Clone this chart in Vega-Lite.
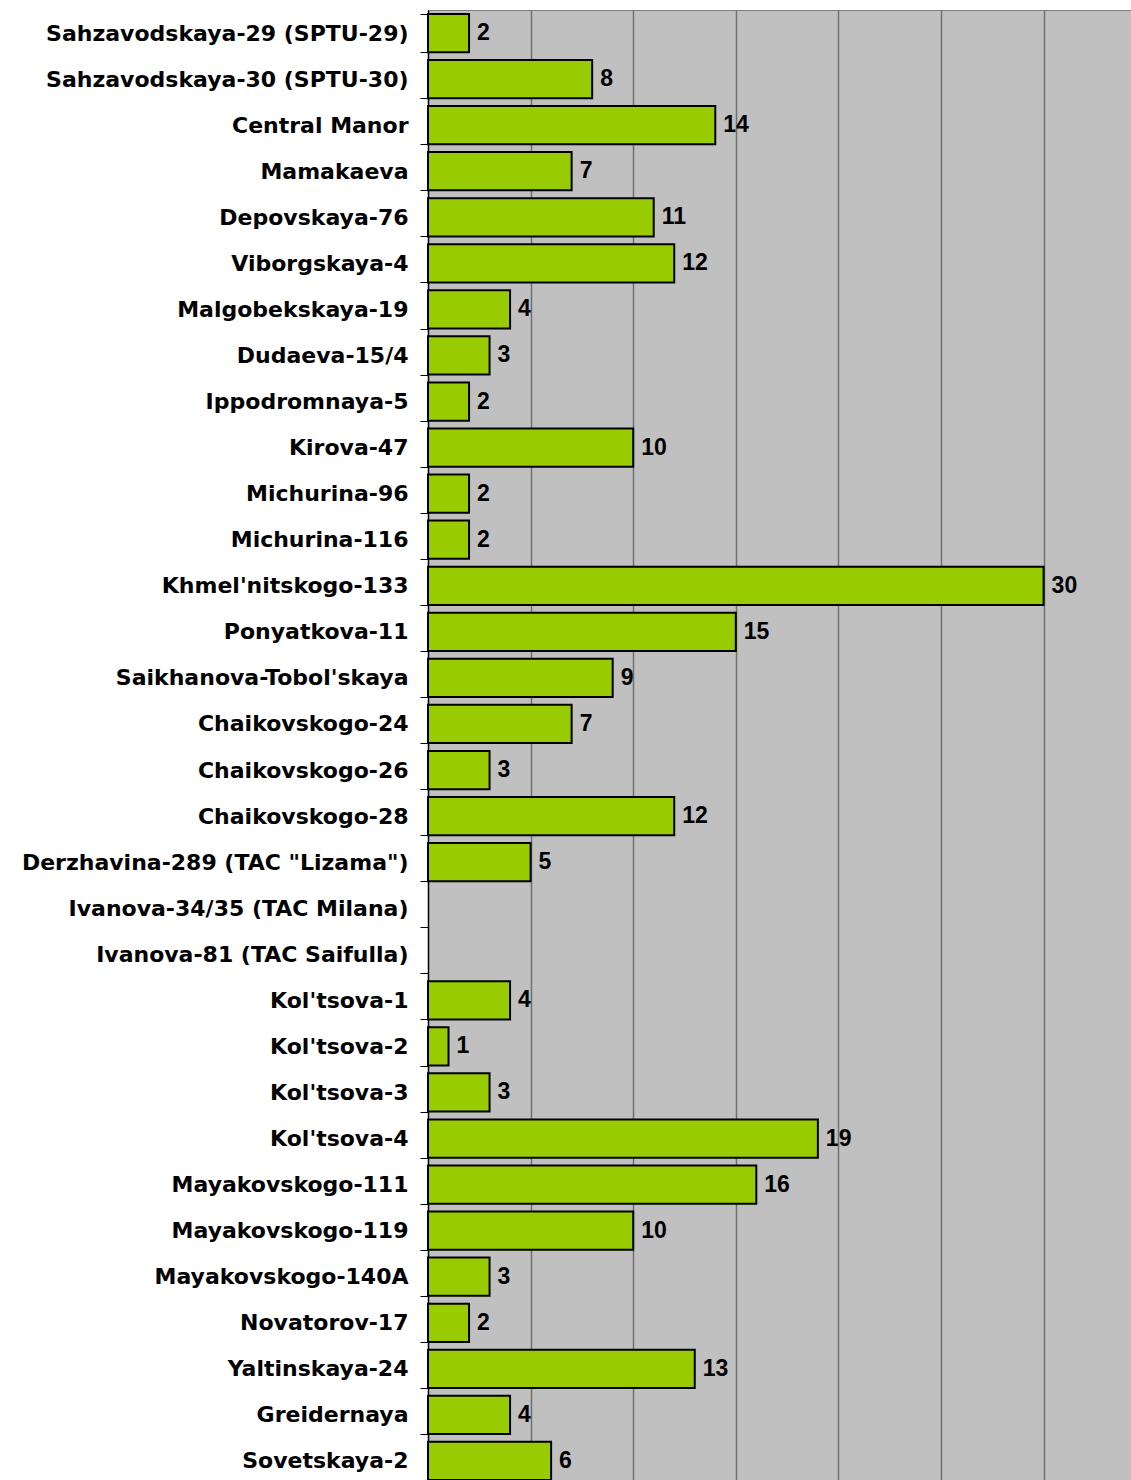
{
  "$schema": "https://vega.github.io/schema/vega-lite/v6.json",
  "autosize": {"type": "none"},
  "padding": {"left": 428, "top": 10, "right": 0, "bottom": 0},
  "width": 703,
  "height": 1474,
  "background": "white",
  "config": {
    "view": {"fill": "#C0C0C0", "stroke": "#808080", "strokeWidth": 1},
    "font": "Liberation Sans"
  },
  "data": {
    "values": [
      {"name": "Sahzavodskaya-29 (SPTU-29)", "value": 2},
      {"name": "Sahzavodskaya-30 (SPTU-30)", "value": 8},
      {"name": "Central Manor", "value": 14},
      {"name": "Mamakaeva", "value": 7},
      {"name": "Depovskaya-76", "value": 11},
      {"name": "Viborgskaya-4", "value": 12},
      {"name": "Malgobekskaya-19", "value": 4},
      {"name": "Dudaeva-15/4", "value": 3},
      {"name": "Ippodromnaya-5", "value": 2},
      {"name": "Kirova-47", "value": 10},
      {"name": "Michurina-96", "value": 2},
      {"name": "Michurina-116", "value": 2},
      {"name": "Khmel'nitskogo-133", "value": 30},
      {"name": "Ponyatkova-11", "value": 15},
      {"name": "Saikhanova-Tobol'skaya", "value": 9},
      {"name": "Chaikovskogo-24", "value": 7},
      {"name": "Chaikovskogo-26", "value": 3},
      {"name": "Chaikovskogo-28", "value": 12},
      {"name": "Derzhavina-289 (TAC \"Lizama\")", "value": 5},
      {"name": "Ivanova-34/35 (TAC Milana)", "value": null},
      {"name": "Ivanova-81 (TAC Saifulla)", "value": null},
      {"name": "Kol'tsova-1", "value": 4},
      {"name": "Kol'tsova-2", "value": 1},
      {"name": "Kol'tsova-3", "value": 3},
      {"name": "Kol'tsova-4", "value": 19},
      {"name": "Mayakovskogo-111", "value": 16},
      {"name": "Mayakovskogo-119", "value": 10},
      {"name": "Mayakovskogo-140A", "value": 3},
      {"name": "Novatorov-17", "value": 2},
      {"name": "Yaltinskaya-24", "value": 13},
      {"name": "Greidernaya", "value": 4},
      {"name": "Sovetskaya-2", "value": 6}
    ]
  },
  "encoding": {
    "y": {
      "field": "name",
      "type": "nominal",
      "sort": null,
      "scale": {
        "domain": ["Sahzavodskaya-29 (SPTU-29)", "Sahzavodskaya-30 (SPTU-30)", "Central Manor", "Mamakaeva", "Depovskaya-76", "Viborgskaya-4", "Malgobekskaya-19", "Dudaeva-15/4", "Ippodromnaya-5", "Kirova-47", "Michurina-96", "Michurina-116", "Khmel'nitskogo-133", "Ponyatkova-11", "Saikhanova-Tobol'skaya", "Chaikovskogo-24", "Chaikovskogo-26", "Chaikovskogo-28", "Derzhavina-289 (TAC \"Lizama\")", "Ivanova-34/35 (TAC Milana)", "Ivanova-81 (TAC Saifulla)", "Kol'tsova-1", "Kol'tsova-2", "Kol'tsova-3", "Kol'tsova-4", "Mayakovskogo-111", "Mayakovskogo-119", "Mayakovskogo-140A", "Novatorov-17", "Yaltinskaya-24", "Greidernaya", "Sovetskaya-2"],
        "paddingInner": 0.17,
        "paddingOuter": 0.085
      },
      "axis": {
        "title": null,
        "domainColor": "black",
        "domainWidth": 1.5,
        "tickColor": "black",
        "tickSize": 8,
        "tickBand": "extent",
        "labelFont": "DejaVu Sans",
        "labelFontWeight": "bold",
        "labelFontSize": 22,
        "labelColor": "black",
        "labelPadding": 12,
        "labelLimit": 0
      }
    },
    "x": {
      "field": "value",
      "type": "quantitative",
      "scale": {"domain": [0, 34.26], "nice": false},
      "axis": {
        "title": null,
        "values": [5, 10, 15, 20, 25, 30],
        "grid": true,
        "gridColor": "#707070",
        "gridWidth": 1.5,
        "gridOpacity": 1,
        "domain": false,
        "ticks": false,
        "labels": false
      }
    }
  },
  "layer": [
    {
      "mark": {"type": "bar", "fill": "#99CC00", "stroke": "black", "strokeWidth": 2}
    },
    {
      "mark": {"type": "text", "align": "left", "baseline": "middle", "dx": 8, "font": "Liberation Sans", "fontWeight": "bold", "fontSize": 23, "color": "black"},
      "encoding": {"text": {"field": "value", "type": "quantitative"}}
    }
  ]
}
